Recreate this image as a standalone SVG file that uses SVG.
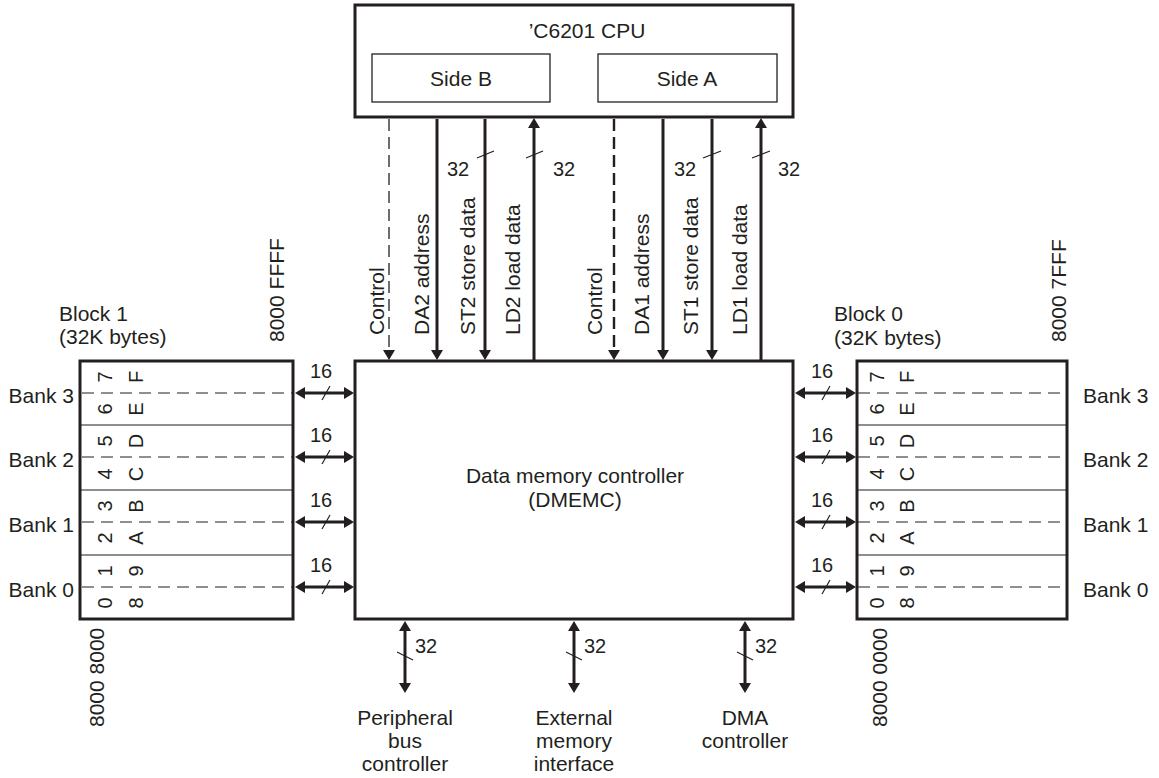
<svg xmlns="http://www.w3.org/2000/svg" width="1159" height="778" viewBox="0 0 1159 778">
<style>
text{font-family:"Liberation Sans",Arial,sans-serif;fill:#231f20;}
.t{font-size:21px;}
.n{font-size:20px;}
.c{font-size:20px;}
.box{fill:#fff;stroke:#231f20;stroke-width:3;}
.inner{fill:none;stroke:#231f20;stroke-width:1.3;}
.div{stroke:#231f20;stroke-width:1.2;}
.bankdash{stroke:#231f20;stroke-width:1.2;stroke-dasharray:12 7;fill:none;}
.bus{stroke:#231f20;stroke-width:3;fill:none;}
.ctlB{stroke:#231f20;stroke-width:1.3;stroke-dasharray:12 6;fill:none;}
.ctlA{stroke:#231f20;stroke-width:2.4;stroke-dasharray:12 6;fill:none;}
.slash{stroke:#231f20;stroke-width:1.2;}
.mid{text-anchor:middle;}
.end{text-anchor:end;}
</style>
<defs>
<marker id="ah" markerUnits="userSpaceOnUse" markerWidth="11" markerHeight="12" refX="0" refY="6" orient="auto-start-reverse" overflow="visible">
<path d="M0,0 L10,6 L0,12 z" fill="#231f20"/>
</marker>
</defs>
<rect width="1159" height="778" fill="#fff"/>

<g id="cpu">
<rect class="box" x="355" y="5" width="438" height="112"/>
<text class="t mid" x="587" y="38">’C6201 CPU</text>
<rect class="inner" x="372" y="54" width="178" height="48"/>
<text class="t mid" x="461" y="86">Side B</text>
<rect class="inner" x="598" y="54" width="179" height="48"/>
<text class="t mid" x="687" y="86">Side A</text>
</g>

<g id="dmemc">
<rect class="box" x="355" y="361" width="438" height="258"/>
<text class="t mid" x="575" y="483">Data memory controller</text>
<text class="t mid" x="575" y="507">(DMEMC)</text>
</g>

<g id="block1">
<rect class="box" x="80" y="361" width="213" height="258"/>
<line class="div" x1="81" y1="425" x2="292" y2="425"/>
<line class="div" x1="81" y1="490" x2="292" y2="490"/>
<line class="div" x1="81" y1="555" x2="292" y2="555"/>
<line class="bankdash" x1="82" y1="393" x2="292" y2="393"/>
<line class="bankdash" x1="82" y1="457" x2="292" y2="457"/>
<line class="bankdash" x1="82" y1="522" x2="292" y2="522"/>
<line class="bankdash" x1="82" y1="587" x2="292" y2="587"/>
<text class="c mid" transform="translate(112,377) rotate(-90)">7</text>
<text class="c mid" transform="translate(143,377) rotate(-90)">F</text>
<text class="c mid" transform="translate(112,409) rotate(-90)">6</text>
<text class="c mid" transform="translate(143,409) rotate(-90)">E</text>
<text class="c mid" transform="translate(112,441) rotate(-90)">5</text>
<text class="c mid" transform="translate(143,441) rotate(-90)">D</text>
<text class="c mid" transform="translate(112,474) rotate(-90)">4</text>
<text class="c mid" transform="translate(143,474) rotate(-90)">C</text>
<text class="c mid" transform="translate(112,506) rotate(-90)">3</text>
<text class="c mid" transform="translate(143,506) rotate(-90)">B</text>
<text class="c mid" transform="translate(112,538) rotate(-90)">2</text>
<text class="c mid" transform="translate(143,538) rotate(-90)">A</text>
<text class="c mid" transform="translate(112,571) rotate(-90)">1</text>
<text class="c mid" transform="translate(143,571) rotate(-90)">9</text>
<text class="c mid" transform="translate(112,603) rotate(-90)">0</text>
<text class="c mid" transform="translate(143,603) rotate(-90)">8</text>
<text class="t" x="59" y="321">Block 1</text>
<text class="t" x="59" y="344">(32K bytes)</text>
<text class="t" transform="translate(284,342) rotate(-90)">8000 FFFF</text>
<text class="t" transform="translate(104,727) rotate(-90)">8000 8000</text>
<text class="t end" x="74" y="403">Bank 3</text>
<text class="t end" x="74" y="467">Bank 2</text>
<text class="t end" x="74" y="532">Bank 1</text>
<text class="t end" x="74" y="597">Bank 0</text>
</g>

<g id="block0">
<rect class="box" x="857" y="361" width="210" height="258"/>
<line class="div" x1="858" y1="425" x2="1066" y2="425"/>
<line class="div" x1="858" y1="490" x2="1066" y2="490"/>
<line class="div" x1="858" y1="555" x2="1066" y2="555"/>
<line class="bankdash" x1="858" y1="393" x2="1066" y2="393"/>
<line class="bankdash" x1="858" y1="457" x2="1066" y2="457"/>
<line class="bankdash" x1="858" y1="522" x2="1066" y2="522"/>
<line class="bankdash" x1="858" y1="587" x2="1066" y2="587"/>
<text class="c mid" transform="translate(884,377) rotate(-90)">7</text>
<text class="c mid" transform="translate(914,377) rotate(-90)">F</text>
<text class="c mid" transform="translate(884,409) rotate(-90)">6</text>
<text class="c mid" transform="translate(914,409) rotate(-90)">E</text>
<text class="c mid" transform="translate(884,441) rotate(-90)">5</text>
<text class="c mid" transform="translate(914,441) rotate(-90)">D</text>
<text class="c mid" transform="translate(884,474) rotate(-90)">4</text>
<text class="c mid" transform="translate(914,474) rotate(-90)">C</text>
<text class="c mid" transform="translate(884,506) rotate(-90)">3</text>
<text class="c mid" transform="translate(914,506) rotate(-90)">B</text>
<text class="c mid" transform="translate(884,538) rotate(-90)">2</text>
<text class="c mid" transform="translate(914,538) rotate(-90)">A</text>
<text class="c mid" transform="translate(884,571) rotate(-90)">1</text>
<text class="c mid" transform="translate(914,571) rotate(-90)">9</text>
<text class="c mid" transform="translate(884,603) rotate(-90)">0</text>
<text class="c mid" transform="translate(914,603) rotate(-90)">8</text>
<text class="t" x="834" y="321">Block 0</text>
<text class="t" x="834" y="345">(32K bytes)</text>
<text class="t" transform="translate(1066,342) rotate(-90)">8000 7FFF</text>
<text class="t" transform="translate(887,727) rotate(-90)">8000 0000</text>
<text class="t" x="1083" y="403">Bank 3</text>
<text class="t" x="1083" y="467">Bank 2</text>
<text class="t" x="1083" y="532">Bank 1</text>
<text class="t" x="1083" y="597">Bank 0</text>
</g>

<g id="peripheral">
<text class="t mid" x="405" y="725">Peripheral</text>
<text class="t mid" x="405" y="748">bus</text>
<text class="t mid" x="405" y="771">controller</text>
</g>
<g id="emif">
<text class="t mid" x="574" y="725">External</text>
<text class="t mid" x="574" y="748">memory</text>
<text class="t mid" x="574" y="771">interface</text>
</g>
<g id="dma">
<text class="t mid" x="745" y="725">DMA</text>
<text class="t mid" x="745" y="748">controller</text>
</g>

<g id="connectors">
<path class="ctlB" d="M389,119 V350" marker-end="url(#ah)"/>
<path class="bus" d="M437,119 V350" marker-end="url(#ah)"/>
<path class="bus" d="M485,119 V350" marker-end="url(#ah)"/>
<path class="bus" d="M534,360 V128" marker-end="url(#ah)"/>
<path class="ctlA" d="M614,119 V350" marker-end="url(#ah)"/>
<path class="bus" d="M663,119 V350" marker-end="url(#ah)"/>
<path class="bus" d="M712,119 V350" marker-end="url(#ah)"/>
<path class="bus" d="M761,360 V128" marker-end="url(#ah)"/>
<line class="slash" x1="477" y1="158" x2="494" y2="151"/>
<line class="slash" x1="526" y1="158" x2="543" y2="151"/>
<line class="slash" x1="703" y1="158" x2="721" y2="151"/>
<line class="slash" x1="752" y1="158" x2="770" y2="151"/>
<text class="n mid" x="458" y="176">32</text>
<text class="n mid" x="564" y="176">32</text>
<text class="n mid" x="685" y="176">32</text>
<text class="n mid" x="789" y="176">32</text>
<text class="t" transform="translate(384,335) rotate(-90)">Control</text>
<text class="t" transform="translate(429,335) rotate(-90)">DA2 address</text>
<text class="t" transform="translate(475,335) rotate(-90)">ST2 store data</text>
<text class="t" transform="translate(520,335) rotate(-90)">LD2 load data</text>
<text class="t" transform="translate(602,335) rotate(-90)">Control</text>
<text class="t" transform="translate(649,335) rotate(-90)">DA1 address</text>
<text class="t" transform="translate(698,335) rotate(-90)">ST1 store data</text>
<text class="t" transform="translate(747,335) rotate(-90)">LD1 load data</text>
<path class="bus" d="M305,393 H344" marker-start="url(#ah)" marker-end="url(#ah)"/>
<path class="bus" d="M305,457 H344" marker-start="url(#ah)" marker-end="url(#ah)"/>
<path class="bus" d="M305,522 H344" marker-start="url(#ah)" marker-end="url(#ah)"/>
<path class="bus" d="M305,587 H344" marker-start="url(#ah)" marker-end="url(#ah)"/>
<line class="slash" x1="322" y1="400" x2="330" y2="386"/>
<line class="slash" x1="322" y1="464" x2="330" y2="450"/>
<line class="slash" x1="322" y1="529" x2="330" y2="515"/>
<line class="slash" x1="322" y1="594" x2="330" y2="580"/>
<text class="n mid" x="321" y="378">16</text>
<text class="n mid" x="321" y="442">16</text>
<text class="n mid" x="321" y="507">16</text>
<text class="n mid" x="321" y="572">16</text>
<path class="bus" d="M805,393 H846" marker-start="url(#ah)" marker-end="url(#ah)"/>
<path class="bus" d="M805,457 H846" marker-start="url(#ah)" marker-end="url(#ah)"/>
<path class="bus" d="M805,522 H846" marker-start="url(#ah)" marker-end="url(#ah)"/>
<path class="bus" d="M805,587 H846" marker-start="url(#ah)" marker-end="url(#ah)"/>
<line class="slash" x1="822" y1="400" x2="830" y2="386"/>
<line class="slash" x1="822" y1="464" x2="830" y2="450"/>
<line class="slash" x1="822" y1="529" x2="830" y2="515"/>
<line class="slash" x1="822" y1="594" x2="830" y2="580"/>
<text class="n mid" x="822" y="378">16</text>
<text class="n mid" x="822" y="442">16</text>
<text class="n mid" x="822" y="507">16</text>
<text class="n mid" x="822" y="572">16</text>
<path class="bus" d="M405,631 V683" marker-start="url(#ah)" marker-end="url(#ah)"/>
<path class="bus" d="M574,631 V683" marker-start="url(#ah)" marker-end="url(#ah)"/>
<path class="bus" d="M745,631 V683" marker-start="url(#ah)" marker-end="url(#ah)"/>
<line class="slash" x1="397" y1="652" x2="413" y2="660"/>
<line class="slash" x1="566" y1="652" x2="582" y2="660"/>
<line class="slash" x1="737" y1="652" x2="753" y2="660"/>
<text class="n" x="415" y="653">32</text>
<text class="n" x="584" y="653">32</text>
<text class="n" x="755" y="653">32</text>
</g>
</svg>
